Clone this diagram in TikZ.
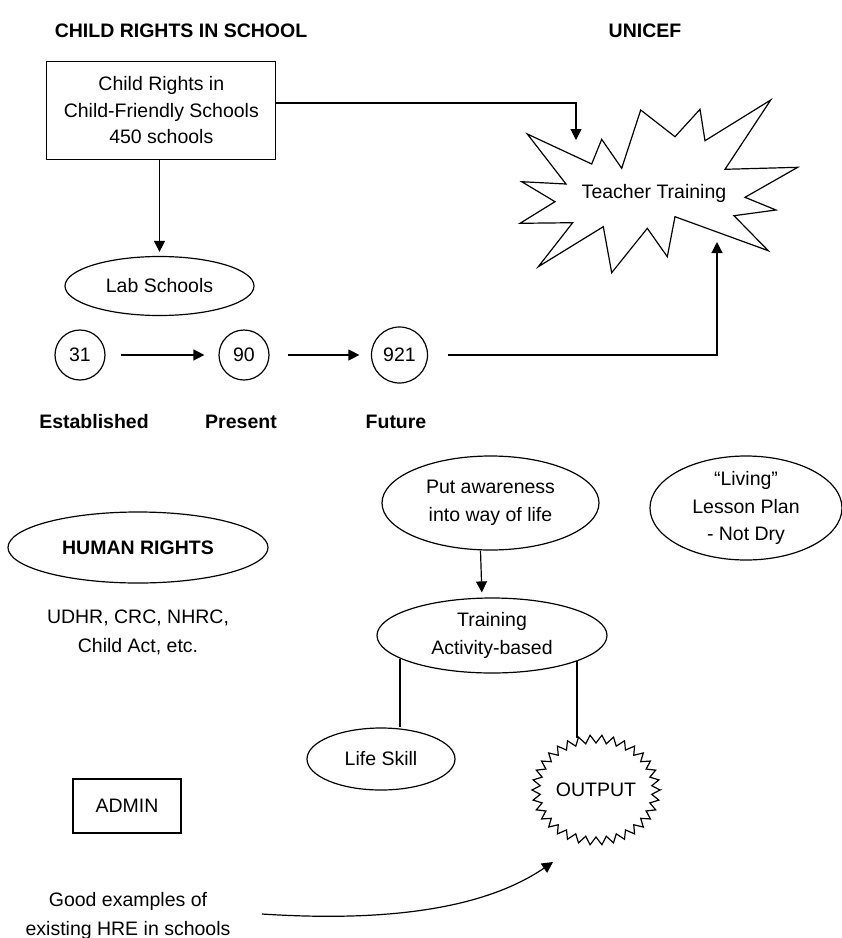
\documentclass[tikz,border=0pt]{standalone}
\usepackage{fontspec}
\setmainfont{Liberation Sans}
\usetikzlibrary{arrows.meta,calc,shapes.geometric}
\begin{document}
\begin{tikzpicture}[x=1pt,y=-1pt,
  font=\fontsize{19.5}{27.5}\selectfont,
  line width=1.2pt, line join=miter,
  ell/.style={draw, ellipse, inner sep=0pt, align=center},
  rnd/.style={draw, circle, inner sep=0pt},
  rbox/.style={draw, rectangle, inner sep=0pt, align=center},
  txt/.style={inner sep=0pt, align=center},
  hdr/.style={inner sep=0pt, font=\fontsize{19.5}{24}\selectfont\bfseries},
  arr/.style={-{Triangle[length=11pt,width=11pt]}},
  conn/.style={-}]
\useasboundingbox (0,0) rectangle (842,938);

% headers
\node[hdr] (h1) at (181,31) {CHILD RIGHTS IN SCHOOL};
\node[hdr] (h2) at (645,31) {UNICEF};

% top box
\node[rbox, minimum width=229pt, minimum height=98pt, font=\fontsize{19.5}{26.5}\selectfont] (box) at (161.3,110.5)
  {Child Rights in\\Child-Friendly Schools\\450 schools};

% teacher training star
\draw (527.3,134) -- (591.7,164) -- (601.7,139.3) -- (621.7,168.3) -- (640.7,110)
  -- (675,136.7) -- (700,109.3) -- (705,140.7) -- (770.7,100) -- (725,169.3)
  -- (797.7,167.3) -- (745,197.3) -- (776,210) -- (734,215.7) -- (768.3,250.7)
  -- (675,216.7) -- (667.3,256.7) -- (647.3,228.3) -- (611.7,272.7) -- (603.3,226.7)
  -- (538.3,266.7) -- (572.7,222.7) -- (520,223.3) -- (555,201.7) -- (521.7,181.7)
  -- (566,184) -- cycle;
\node[txt] (tt) at (654,193) {Teacher Training};
\coordinate (ttin) at (576,140);
\coordinate (ttbot) at (717,242);

% lab schools
\node[ell, minimum width=189pt, minimum height=59pt] (lab) at (159.5,286) {Lab Schools};

% circles row
\node[rnd, minimum size=50pt] (c31) at (80,355) {31};
\node[rnd, minimum size=50pt] (c90) at (244,355) {90};
\node[rnd, minimum size=56pt] (c921) at (399.5,355) {921};

\node[hdr] (est) at (94,421.5) {Established};
\node[hdr] (pre) at (241,421.5) {Present};
\node[hdr] (fut) at (396,421.5) {Future};

% awareness
\node[ell, minimum width=217pt, minimum height=94pt] (aw) at (490.5,503) {Put awareness\\into way of life};
\node[ell, minimum width=192pt, minimum height=104pt] (liv) at (746,508) {``Living''\\Lesson Plan\\- Not Dry};
\node[ell, minimum width=230pt, minimum height=75pt] (train) at (492,635.5) {Training\\Activity-based};

% human rights
\node[ell, minimum width=260pt, minimum height=71pt, font=\fontsize{19.5}{24}\selectfont\bfseries] (hr) at (138,547.5) {HUMAN RIGHTS};
\node[txt, font=\fontsize{19.5}{29}\selectfont] (udhr) at (138,632.5) {UDHR, CRC, NHRC,\\Child Act, etc.};

% life skill
\node[ell, minimum width=148pt, minimum height=62pt] (ls) at (381,759) {Life Skill};

% output
\draw plot[samples=69, domain=0:68, variable=\t]
  ({596+(64-8*mod(round(\t),2))*cos(\t*5.294118)}, {790+(55-8*mod(round(\t),2))*sin(\t*5.294118)}) -- cycle;
\node[txt] (out) at (596,790) {OUTPUT};
\coordinate (otop) at (577,738);

% admin
\node[rbox, minimum width=108pt, minimum height=54pt] (admin) at (127,806) {ADMIN};

% good examples
\node[txt, font=\fontsize{19.5}{29}\selectfont] (good) at (128,916) {Good examples of\\existing HRE in schools};
\coordinate (gstart) at (262,914);
\coordinate (gend) at (553,862);

% connectors
\draw[arr] ($(box.east)+(0,-7.5)$) -| (ttin);
\draw[arr, shorten >=4pt] (box.south -| lab.north) -- (lab.north);
\draw[arr, shorten <=15pt, shorten >=14pt] (c31) -- (c90);
\draw[arr, shorten <=18pt, shorten >=11.5pt] (c90) -- (c921);
\draw[arr, shorten <=19.5pt] (c921.east) -| (ttbot);
\draw[arr, shorten >=5pt] ($(aw.south)+(-10,0)$) -- ($(train.north)+(-10,0)$);
\path (train.center) ++(-92,23) coordinate (tl);
\draw[conn] (tl) -- (tl |- ls.north);
\path (train.center) ++(85,25) coordinate (tr);
\draw[conn] (tr) -- (otop);
\draw[arr] (gstart) .. controls (400,923) and (490,905) .. (gend);
\end{tikzpicture}
\end{document}
